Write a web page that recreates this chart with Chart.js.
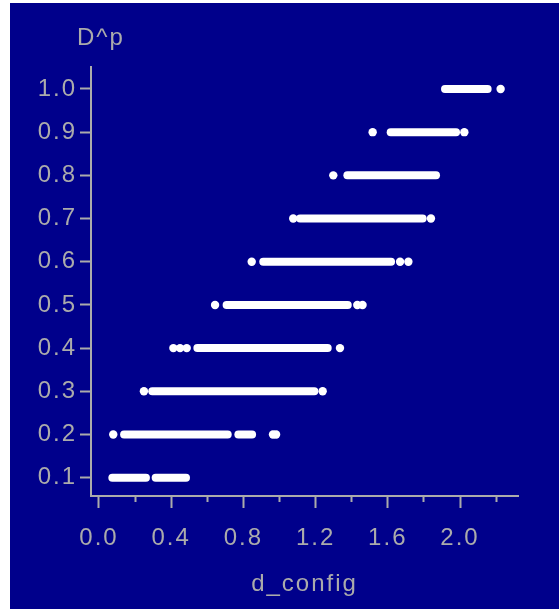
<!DOCTYPE html>
<html>
<head>
<meta charset="utf-8">
<script src="https://cdn.jsdelivr.net/npm/chart.js@4.4.1/dist/chart.umd.min.js"></script>
<style>
html,body{margin:0;padding:0;background:#ffffff;}
#wrap{position:absolute;left:0;top:0;width:559px;height:609px;}
</style>
</head>
<body>
<div id="wrap"><canvas id="c"></canvas></div>
<script>
// ---- data ----
const yTickValues = [0.1, 0.2, 0.3, 0.4, 0.5, 0.6, 0.7, 0.8, 0.9, 1.0];
const xMajorTicks = [0.0, 0.4, 0.8, 1.2, 1.6, 2.0];
const xMinorTicks = [0.2, 0.6, 1.0, 1.4, 1.8, 2.2];

// dense runs of points (start / end of each run) per D^p level
const runY  = [0.1,   0.1,   0.2,   0.2,   0.3,   0.4,   0.5,   0.6,   0.7,   0.8,   0.9,   1.0];
const runX0 = [0.074, 0.314, 0.139, 0.772, 0.295, 0.545, 0.707, 0.910, 1.114, 1.376, 1.616, 1.917];
const runX1 = [0.260, 0.482, 0.713, 0.848, 1.193, 1.267, 1.378, 1.618, 1.793, 1.867, 1.978, 2.153];

// isolated points
const dotY = [0.2,   0.2,   0.2,   0.3,   0.3,   0.4,   0.4,   0.4,   0.4,   0.5,   0.5,   0.5,   0.6,   0.6,   0.6,   0.7,   0.7,   0.8,   0.9,   0.9,   1.0];
const dotX = [0.079, 0.964, 0.981, 0.249, 1.239, 0.412, 0.449, 0.486, 1.335, 0.643, 1.431, 1.460, 0.846, 1.668, 1.714, 1.076, 1.839, 1.298, 1.516, 2.024, 2.225];

// ---- styling ----
const GREY = '#ababab';
const BLUE = '#00008b';
const FONT = {family: '"Liberation Sans", Arial, sans-serif', size: 24, weight: 'normal'};
const LS = '2px';

const datasets = [];
for (let i = 0; i < runY.length; i++) {
  datasets.push({
    data: [{x: runX0[i], y: runY[i]}, {x: runX1[i], y: runY[i]}],
    showLine: true,
    borderColor: '#ffffff',
    borderWidth: 8,
    borderCapStyle: 'round',
    pointRadius: 0,
    pointHoverRadius: 0,
    clip: false
  });
}
datasets.push({
  data: dotX.map((x, i) => ({x: x, y: dotY[i]})),
  showLine: false,
  backgroundColor: '#ffffff',
  borderWidth: 0,
  pointRadius: 4.2,
  pointHoverRadius: 4.2,
  clip: false
});

const spacing = {
  id: 'spacing',
  beforeLayout(chart) { chart.ctx.letterSpacing = LS; },
  beforeDraw(chart) {
    const ctx = chart.ctx;
    ctx.save();
    ctx.fillStyle = '#ffffff';
    ctx.fillRect(0, 0, chart.width, chart.height);
    ctx.fillStyle = BLUE;
    ctx.fillRect(10, 3, chart.width - 10, chart.height - 3);
    ctx.restore();
    ctx.letterSpacing = LS;
  },
  afterDraw(chart) {
    const ctx = chart.ctx;
    ctx.save();
    ctx.letterSpacing = LS;
    ctx.fillStyle = GREY;
    ctx.font = `${FONT.size}px ${FONT.family}`;
    ctx.textAlign = 'left';
    ctx.textBaseline = 'alphabetic';
    ctx.fillText('D^p', 77, 45);
    ctx.restore();
  }
};

const xMin = -0.0443, xMax = 2.3213;

new Chart(document.getElementById('c'), {
  type: 'scatter',
  data: {datasets},
  plugins: [spacing],
  options: {
    responsive: true,
    maintainAspectRatio: false,
    animation: false,
    events: [],
    layout: {padding: {left: 0, right: 41, top: 67, bottom: 0}},
    plugins: {legend: {display: false}, tooltip: {enabled: false}, title: {display: false}},
    scales: {
      x: {
        type: 'linear', position: 'bottom', weight: 1,
        min: xMin, max: xMax,
        afterBuildTicks: s => { s.ticks = xMajorTicks.map(v => ({value: v})); },
        afterFit: s => { s.height = 113; },
        ticks: {color: GREY, font: FONT, padding: 16, maxRotation: 0, autoSkip: false,
                callback: v => Number(v).toFixed(1)},
        grid: {drawOnChartArea: false, drawTicks: true, tickLength: 12, tickColor: GREY, tickWidth: 2},
        border: {display: true, color: GREY, width: 2},
        title: {display: true, text: 'd_config', color: GREY, font: FONT, padding: {top: 0, bottom: 10}}
      },
      xMinor: {
        type: 'linear', position: 'bottom', weight: 0,
        min: xMin, max: xMax,
        afterBuildTicks: s => { s.ticks = xMinorTicks.map(v => ({value: v})); },
        afterFit: s => { s.height = 0; },
        ticks: {display: false},
        grid: {drawOnChartArea: false, drawTicks: true, tickLength: 6, tickColor: GREY, tickWidth: 2},
        border: {display: false}
      },
      y: {
        type: 'linear', position: 'left',
        min: 0.0576, max: 1.0509,
        afterBuildTicks: s => { s.ticks = yTickValues.map(v => ({value: v})); },
        afterFit: s => { s.width = 91; },
        ticks: {color: GREY, font: FONT, padding: 3, autoSkip: false,
                callback: v => Number(v).toFixed(1)},
        grid: {drawOnChartArea: false, drawTicks: true, tickLength: 11, tickColor: GREY, tickWidth: 2},
        border: {display: true, color: GREY, width: 2}
      }
    }
  }
});
</script>
</body>
</html>
